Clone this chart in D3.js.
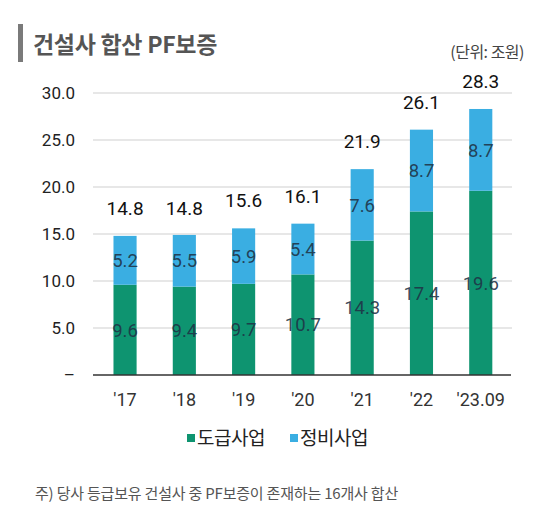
<!DOCTYPE html>
<html><head><meta charset="utf-8">
<script src="https://cdn.jsdelivr.net/npm/d3@7"></script>
<style>
html,body{margin:0;padding:0;background:#fff;}
svg{display:block;}
</style></head>
<body>
<svg id="c" width="550" height="521"></svg>
<script>
const categories = ["'17","'18","'19","'20","'21","'22","'23.09"];
const contract = [9.6, 9.4, 9.7, 10.7, 14.3, 17.4, 19.6];   // 도급사업
const redevelop = [5.2, 5.5, 5.9, 5.4, 7.6, 8.7, 8.7];     // 정비사업
const totals = [14.8, 14.8, 15.6, 16.1, 21.9, 26.1, 28.3];
const yTicks = [0, 5, 10, 15, 20, 25, 30];
const seriesNames = ["도급사업", "정비사업"];
const colors = ["#0e9470", "#3aaee2"];

const svg = d3.select("#c");
const numFont = "Roboto, 'Liberation Sans', sans-serif";
const krFont = "'Noto Sans CJK KR', 'Noto Sans', sans-serif";

// title
svg.append("rect").attr("x",18).attr("y",24).attr("width",5).attr("height",38).attr("fill","#7a7a7a");
svg.append("text").attr("x",33).attr("y",53).attr("font-family",krFont).attr("font-weight",700)
  .attr("font-size",23).attr("fill","#555").attr("letter-spacing",-0.3).text("건설사 합산 PF보증");
svg.append("text").attr("x",524).attr("y",58).attr("text-anchor","end").attr("font-family",krFont)
  .attr("font-size",16).attr("fill","#444").attr("letter-spacing",-0.5).text("(단위: 조원)");

const y = d3.scaleLinear().domain([0,30]).range([375,93]);
const x = d3.scaleBand().domain(categories).range([95.4,510.4]).paddingInner(0.61).paddingOuter(0.305);

// gridlines
svg.append("g").selectAll("line").data(yTicks.filter(d=>d>0)).join("line")
  .attr("x1",93).attr("x2",512).attr("y1",d=>y(d)).attr("y2",d=>y(d))
  .attr("stroke","#cfcfcf").attr("stroke-width",1);

// y axis labels
const yAxis = d3.axisLeft(y).tickValues(yTicks).tickSize(0).tickPadding(0)
  .tickFormat(d=> d===0 ? "–" : d3.format(".1f")(d));
const ga = svg.append("g").attr("transform","translate(75,0)").call(yAxis);
ga.select(".domain").remove();
ga.selectAll("text").attr("font-family",numFont).attr("font-size",17).attr("fill","#222");

// stacked bars
const stackData = categories.map((c,i)=>({cat:c, a:contract[i], b:redevelop[i]}));
const stacked = d3.stack().keys(["a","b"])(stackData);
const gBars = svg.append("g");
stacked.forEach((s,si)=>{
  gBars.append("g").selectAll("rect").data(s).join("rect")
    .attr("x",d=>x(d.data.cat)).attr("width",x.bandwidth())
    .attr("y",d=>y(d[1])).attr("height",d=>y(d[0])-y(d[1]))
    .attr("fill",colors[si]);
});

// baseline
svg.append("line").attr("x1",93).attr("x2",511).attr("y1",y(0)).attr("y2",y(0))
  .attr("stroke","#333").attr("stroke-width",1.5);

// inside labels
stacked.forEach((s,si)=>{
  svg.append("g").selectAll("text").data(s).join("text")
    .attr("x",d=>x(d.data.cat)+x.bandwidth()/2)
    .attr("y",d=>(y(d[0])+y(d[1]))/2)
    .attr("dy","0.36em").attr("text-anchor","middle")
    .attr("font-family",numFont).attr("font-size",18.5).attr("fill","#1f3346").attr("fill-opacity",0.9)
    .text(d=>d3.format(".1f")(d[1]-d[0]));
});

// totals
svg.append("g").selectAll("text").data(totals).join("text")
  .attr("x",(d,i)=>x(categories[i])+x.bandwidth()/2)
  .attr("y",d=>y(d)-21)
  .attr("text-anchor","middle").attr("font-family",numFont).attr("font-size",19)
  .attr("font-weight",400).attr("fill","#111")
  .text(d=>d3.format(".1f")(d));

// x axis labels
const xAxis = d3.axisBottom(x).tickSize(0).tickPadding(0);
const gx = svg.append("g").attr("transform","translate(0,406)").call(xAxis);
gx.select(".domain").remove();
gx.selectAll("text").attr("dy",0).attr("font-family",numFont).attr("font-size",18).attr("fill","#333");

// legend
const legend = svg.append("g");
const lx = [187, 290];
seriesNames.forEach((n,i)=>{
  legend.append("rect").attr("x",lx[i]).attr("y",434).attr("width",8).attr("height",8).attr("fill",colors[i]);
  legend.append("text").attr("x",lx[i]+10).attr("y",445).attr("font-family",krFont)
    .attr("font-size",19).attr("fill","#222").attr("letter-spacing",-0.5).text(n);
});

// footnote
svg.append("text").attr("x",35).attr("y",499).attr("font-family",krFont).attr("font-size",15)
  .attr("fill","#555").attr("letter-spacing",-0.2).text("주) 당사 등급보유 건설사 중 PF보증이 존재하는 16개사 합산");
</script>
</body></html>
